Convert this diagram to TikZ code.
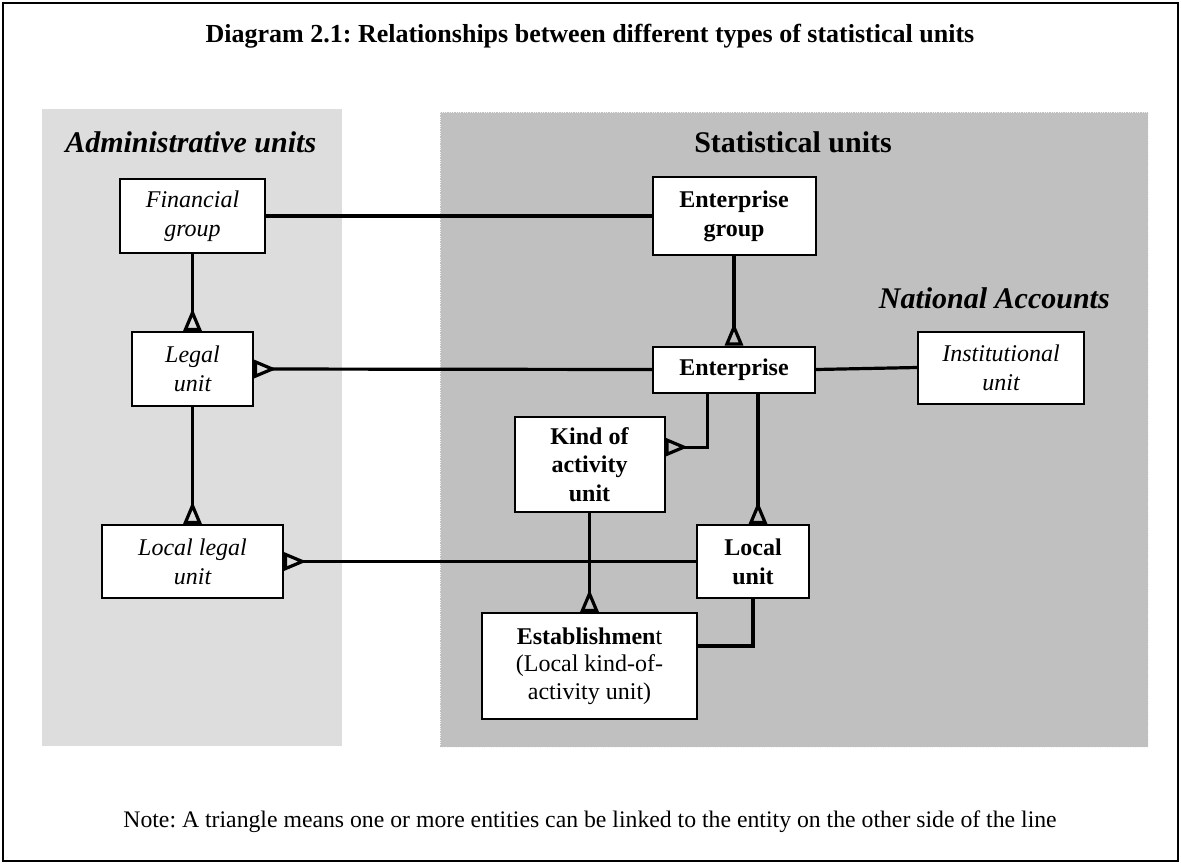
\documentclass[tikz,border=0pt]{standalone}
\usepackage{fontspec}
\setmainfont{Liberation Serif}
\usetikzlibrary{arrows.meta}
\definecolor{admgray}{HTML}{DDDDDD}
\definecolor{statgray}{HTML}{C0C0C0}
\newcommand\bxfont{\fontsize{18}{21.5}\selectfont}
\newcommand\hdfont{\fontsize{22.5}{27}\selectfont\bfseries\itshape}
\frenchspacing
\begin{document}
\begin{tikzpicture}[x=0.75pt,y=-0.75pt,
  box/.style={draw, line width=1.5pt, fill=white, align=center, inner sep=0pt, font=\bxfont},
  conn/.style={line width=2.4pt},
  tri/.style={conn, -{Triangle[open, reversed, length=17pt, width=13.5pt, line width=2.4pt]}},
  heading/.style={inner sep=0pt, anchor=base}
]
\useasboundingbox (0,0) rectangle (1181,864);
% frame
\draw[line width=1.1pt] (3,3) rectangle (1178,861);
% panels
\fill[admgray] (42,109) rectangle (342,746);
\fill[statgray] (440,112) rectangle (1148,747);
\draw[white!80!statgray, densely dotted, line width=0.75pt] (440,112) rectangle (1148,747);
% title
\node[heading, font=\fontsize{19.5}{23}\selectfont\bfseries] (title) at (590,42)
  {Diagram 2.1: Relationships between different types of statistical units};
\node[heading, font=\hdfont, anchor=base west] (adm) at (65,152) {Administrative units};
\node[heading, font=\fontsize{22.5}{27}\selectfont\bfseries] (stat) at (793,152) {Statistical units};
\node[heading, font=\hdfont, anchor=base east] (na) at (1110,308) {National Accounts};
% boxes
\node[box, minimum width=108.75pt, minimum height=55.5pt] (fin) at (192.5,216) {\itshape Financial\\\itshape group};
\node[box, minimum width=122.25pt, minimum height=58.5pt] (eg) at (734,216) {\bfseries Enterprise\\\bfseries group};
\node[box, minimum width=90.75pt, minimum height=55.5pt] (legal) at (192.5,369) {\itshape Legal\\\itshape unit};
\node[box, minimum width=121.5pt, minimum height=34.5pt] (ent) at (734,369.5) {\bfseries Enterprise};
\node[box, minimum width=124.5pt, minimum height=54pt] (inst) at (1001,367.5) {\itshape Institutional\\\itshape unit};
\node[box, minimum width=112.5pt, minimum height=71.25pt] (kau) at (589.5,464.5) {\bfseries Kind of\\\bfseries activity\\\bfseries unit};
\node[box, minimum width=84pt, minimum height=54.75pt] (lu) at (753,561.5) {\bfseries Local\\\bfseries unit};
\node[box, minimum width=135.75pt, minimum height=54.75pt] (llu) at (192.5,561.5) {\itshape Local legal\\\itshape unit};
\node[box, minimum width=161.25pt, minimum height=79.5pt, font=\fontsize{18}{20.5}\selectfont] (est) at (589.5,666) {\textbf{Establishmen}t\\(Local kind-of-\\activity unit)};
% connectors
\draw[conn] (fin.east) -- (eg.west);
\draw[tri] (fin.south) -- (legal.north);
\draw[tri] (ent.west) -- (legal.east);
\draw[tri] (eg.south) -- (ent.north);
\draw[conn] (ent.east) -- (inst.west);
\draw[tri] ([xshift=-20pt]ent.south) |- ([yshift=13pt]kau.east);
\draw[tri] ([xshift=18pt]ent.south) -- ([xshift=18pt]ent.south |- lu.north);
\draw[tri] (legal.south) -- (llu.north);
\draw[tri] (lu.west) -- (llu.east);
\draw[tri] (kau.south) -- (est.north);
\draw[conn] (lu.south) |- ([yshift=15pt]est.east);
% note
\node[heading, font=\fontsize{17.8}{21}\selectfont] (note) at (590,827)
  {Note: A triangle means one or more entities can be linked to the entity on the other side of the line};
\end{tikzpicture}
\end{document}
